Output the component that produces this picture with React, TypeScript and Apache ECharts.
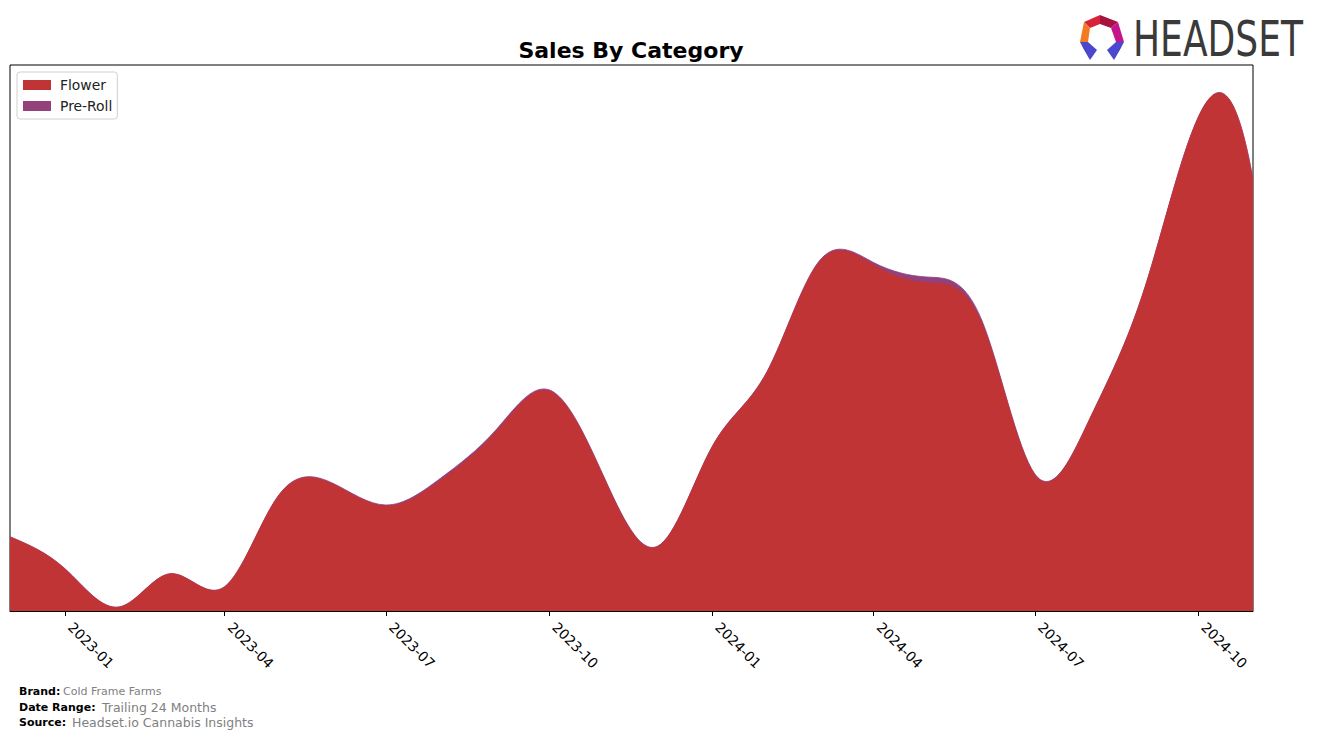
import React, { useEffect, useRef } from "react";
import * as echarts from "echarts";

const months = [
  "2022-12", "2023-01", "2023-02", "2023-03", "2023-04", "2023-05", "2023-06", "2023-07",
  "2023-08", "2023-09", "2023-10", "2023-11", "2023-12", "2024-01", "2024-02", "2024-03",
  "2024-04", "2024-05", "2024-06", "2024-07", "2024-08", "2024-09", "2024-10", "2024-11",
];
const flower = [
  74000, 42000, 4000, 37000, 24000, 114000, 127000, 105000,
  131000, 179000, 220000, 133000, 64000, 164000, 239000, 348000,
  346000, 328000, 288000, 136000, 192000, 323000, 493000, 431000,
];
const preRoll = [
  300, 300, 200, 300, 300, 600, 800, 1000,
  2000, 2000, 1200, 1000, 600, 500, 600, 1200,
  2500, 6000, 3000, 1000, 500, 400, 400, 300,
];
const tickMonths = ["2023-01", "2023-04", "2023-07", "2023-10", "2024-01", "2024-04", "2024-07", "2024-10"];
const yMax = 546000;

const base = Date.UTC(2022, 11, 1);
const dayOf = (m: string) => {
  const [y, mo] = m.split("-").map(Number);
  return Math.round((Date.UTC(y, mo - 1, 1) - base) / 86400000);
};

// Solve a small dense linear system (Gaussian elimination, partial pivoting)
function solve(A: number[][], b: number[]): number[] {
  const n = b.length;
  const M = A.map((r, i) => [...r, b[i]]);
  for (let c = 0; c < n; c++) {
    let p = c;
    for (let r = c + 1; r < n; r++) if (Math.abs(M[r][c]) > Math.abs(M[p][c])) p = r;
    [M[c], M[p]] = [M[p], M[c]];
    for (let r = c + 1; r < n; r++) {
      const f = M[r][c] / M[c][c];
      for (let k = c; k <= n; k++) M[r][k] -= f * M[c][k];
    }
  }
  const x = new Array(n).fill(0);
  for (let r = n - 1; r >= 0; r--) {
    let s = M[r][n];
    for (let k = r + 1; k < n; k++) s -= M[r][k] * x[k];
    x[r] = s / M[r][r];
  }
  return x;
}

// Cubic spline through pixel points (natural start, not-a-knot end), closed down to baseY
function splineArea(pts: number[][], baseY: number): string {
  const n = pts.length;
  const xs = pts.map((p) => p[0]);
  const ys = pts.map((p) => p[1]);
  const h: number[] = [];
  for (let i = 0; i < n - 1; i++) h.push(xs[i + 1] - xs[i]);
  const A: number[][] = [];
  const b: number[] = [];
  for (let i = 0; i < n; i++) A.push(new Array(n).fill(0));
  A[0][0] = 1; b.push(0);
  for (let i = 1; i < n - 1; i++) {
    A[i][i - 1] = h[i - 1];
    A[i][i] = 2 * (h[i - 1] + h[i]);
    A[i][i + 1] = h[i];
    b.push(6 * ((ys[i + 1] - ys[i]) / h[i] - (ys[i] - ys[i - 1]) / h[i - 1]));
  }
  A[n - 1][n - 3] = h[n - 2]; A[n - 1][n - 2] = -(h[n - 3] + h[n - 2]); A[n - 1][n - 1] = h[n - 3]; b.push(0);
  const Mv = solve(A, b);
  let d = `M${xs[0]},${baseY}L${xs[0]},${ys[0]}`;
  for (let i = 0; i < n - 1; i++) {
    const hi = h[i];
    const s = (ys[i + 1] - ys[i]) / hi;
    const m0 = s - (hi * (2 * Mv[i] + Mv[i + 1])) / 6;
    const m1 = s + (hi * (Mv[i] + 2 * Mv[i + 1])) / 6;
    const c1x = xs[i] + hi / 3, c1y = ys[i] + (m0 * hi) / 3;
    const c2x = xs[i + 1] - hi / 3, c2y = ys[i + 1] - (m1 * hi) / 3;
    d += `C${c1x},${c1y},${c2x},${c2y},${xs[i + 1]},${ys[i + 1]}`;
  }
  d += `L${xs[n - 1]},${baseY}Z`;
  return d;
}

export default function App() {
  const ref = useRef<HTMLDivElement>(null);
  useEffect(() => {
    if (!ref.current) return;
    const chart = echarts.init(ref.current, null, { renderer: "svg" });
    const tickVals = tickMonths.map(dayOf);
    const labelMap: Record<number, string> = {};
    tickMonths.forEach((m) => (labelMap[dayOf(m)] = m));
    const font = "DejaVu Sans";
    const totals = flower.map((v, i) => v + preRoll[i]);

    const areaSeries = (name: string, values: number[], color: string, stroke: string, z: number) => ({
      type: "custom",
      name,
      coordinateSystem: "cartesian2d",
      z,
      clip: true,
      itemStyle: { color },
      encode: { x: 0, y: 1 },
      data: months.map((m, i) => [dayOf(m), values[i]]),
      renderItem: (params: any, api: any) => {
        if (params.dataIndex !== 0) return null;
        const pts = months.map((m, i) => api.coord([dayOf(m), values[i]]));
        const baseY = api.coord([0, 0])[1];
        return {
          type: "path",
          shape: { pathData: splineArea(pts, baseY) },
          style: { fill: color, stroke, lineWidth: 0.8 },
        };
      },
    });

    chart.setOption({
      animation: false,
      textStyle: { fontFamily: font },
      grid: {
        left: 10, right: 64, top: 65, bottom: 128,
        show: true, borderColor: "#000", borderWidth: 1, backgroundColor: "transparent",
      },
      legend: {
        orient: "vertical", left: 17, top: 72,
        itemWidth: 28, itemHeight: 10, itemGap: 7,
        padding: [6, 5, 6, 6],
        borderColor: "#d0d0d0", borderWidth: 1, borderRadius: 3,
        backgroundColor: "#fff",
        textStyle: { fontSize: 13.9, color: "#222", fontFamily: font, padding: [0, 0, 0, 4] },
        data: [
          { name: "Flower", icon: "rect" },
          { name: "Pre-Roll", icon: "rect" },
        ],
      },
      xAxis: {
        type: "value",
        min: 0,
        max: dayOf(months[months.length - 1]),
        splitLine: { show: false },
        axisLine: { show: true, lineStyle: { color: "#000", width: 1 } },
        axisTick: { show: true, customValues: tickVals, length: 5, lineStyle: { color: "#000" } },
        axisLabel: {
          customValues: tickVals,
          rotate: -45,
          margin: 8,
          padding: [0, 0, 0, 8],
          fontSize: 13.9,
          color: "#000",
          fontFamily: font,
          formatter: (v: number) => labelMap[v] || "",
        },
      },
      yAxis: {
        type: "value", min: 0, max: yMax,
        show: false, splitLine: { show: false },
      },
      graphic: [
        {
          type: "text", x: 631, y: 50,
          style: { text: "Sales By Category", font: `bold 22px ${font}`, fill: "#000", align: "center", verticalAlign: "middle" },
        },
        { type: "polygon", shape: { points: [[1084, 22], [1100, 15], [1100, 24], [1090, 28]] }, style: { fill: "#d8243a" } },
        { type: "polygon", shape: { points: [[1100, 15], [1118, 22], [1111, 28], [1100, 24]] }, style: { fill: "#a8123e" } },
        { type: "polygon", shape: { points: [[1084, 22], [1090, 28], [1088, 42], [1080, 42]] }, style: { fill: "#f37a22" } },
        { type: "polygon", shape: { points: [[1118, 22], [1124, 42], [1116, 42], [1111, 28]] }, style: { fill: "#c3168a" } },
        { type: "polygon", shape: { points: [[1080, 42], [1088, 42], [1097, 50], [1090, 60]] }, style: { fill: "#4b48cf" } },
        { type: "polygon", shape: { points: [[1080, 42], [1090, 60], [1085, 50]] }, style: { fill: "#2e2a8a" } },
        { type: "polygon", shape: { points: [[1116, 42], [1124, 42], [1114, 60], [1107, 50]] }, style: { fill: "#4b48cf" } },
        { type: "polygon", shape: { points: [[1124, 42], [1114, 60], [1119, 50]] }, style: { fill: "#2e2a8a" } },
        {
          type: "text", x: 1133, y: 39, scaleX: 0.736,
          style: { text: "HEADSET", x: 0, y: 0, font: `49px ${font}`, fill: "#3a3a3a", verticalAlign: "middle" },
        },
        { type: "text", x: 19, y: 691, style: { text: "Brand:", font: `bold 11px ${font}`, fill: "#000", verticalAlign: "middle" } },
        { type: "text", x: 63, y: 691, style: { text: "Cold Frame Farms", font: `11px ${font}`, fill: "#808080", verticalAlign: "middle" } },
        { type: "text", x: 19, y: 707, style: { text: "Date Range:", font: `bold 11px ${font}`, fill: "#000", verticalAlign: "middle" } },
        { type: "text", x: 102, y: 707, style: { text: "Trailing 24 Months", font: `12.5px ${font}`, fill: "#808080", verticalAlign: "middle" } },
        { type: "text", x: 19, y: 722, style: { text: "Source:", font: `bold 11px ${font}`, fill: "#000", verticalAlign: "middle" } },
        { type: "text", x: 72, y: 722, style: { text: "Headset.io Cannabis Insights", font: `12.5px ${font}`, fill: "#808080", verticalAlign: "middle" } },
      ],
      series: [
        areaSeries("Flower", flower, "#c13436", "#c13436", 3),
        areaSeries("Pre-Roll", totals, "#94407a", "#8a3f85", 2),
      ],
    });
    return () => chart.dispose();
  }, []);
  return <div ref={ref} style={{ position: "absolute", left: 0, top: 0, width: 1317, height: 739 }} />;
}
